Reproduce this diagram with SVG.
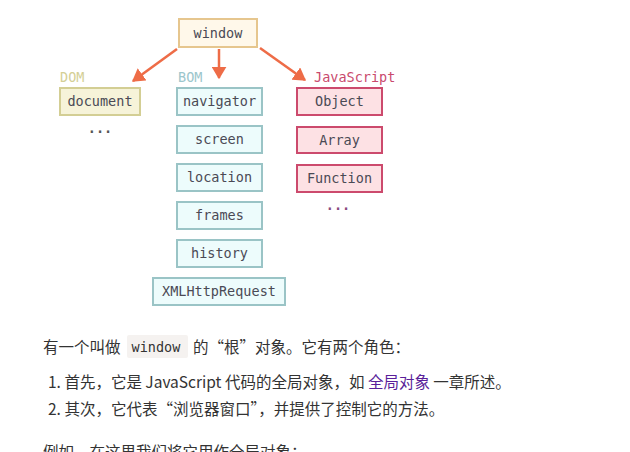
<svg xmlns="http://www.w3.org/2000/svg" width="630" height="452" viewBox="0 0 630 452">
<style>
.m{font-family:"DejaVu Sans Mono","Liberation Mono",monospace;font-size:13.5px;fill:#4a4a55;text-anchor:middle}
.lbl{font-family:"DejaVu Sans Mono","Liberation Mono",monospace;font-size:13.5px}
.win{fill:#fff8ea;stroke:#e6c68e;stroke-width:2}
.dom{fill:#f6f3d9;stroke:#d3ce94;stroke-width:2}
.bom{fill:#edfcfc;stroke:#9ac4c6;stroke-width:2}
.js{fill:#fde1e4;stroke:#cc4a6d;stroke-width:2}
.c{stroke:#ee6c47;stroke-width:2.5;fill:none;marker-end:url(#ah)}
.t{font-family:"Noto Sans CJK SC","Noto Sans",sans-serif;font-size:15.5px;fill:#333}
.dots{font-family:"DejaVu Sans Mono","Liberation Mono",monospace;font-size:13.5px;font-weight:bold;text-anchor:middle}
</style>
<defs>
<marker id="ah" markerWidth="6" markerHeight="6" refX="4.5" refY="3" orient="auto" markerUnits="strokeWidth">
<path d="M0,0 L5,3 L0,6 Z" fill="#ee6c47"/>
</marker>
</defs>
<rect width="630" height="452" fill="#fff"/>
<g id="connectors">
<line class="c" x1="177" y1="49" x2="133" y2="81"/>
<line class="c" x1="219" y1="49" x2="219" y2="78"/>
<line class="c" x1="260" y1="48" x2="305" y2="80"/>
</g>
<g id="window"><rect class="win" x="179" y="19" width="78" height="28"/><text class="m" x="218" y="38">window</text></g>
<g id="dom-label"><text class="lbl" x="60" y="82" fill="#d4cf96">DOM</text></g>
<g id="bom-label"><text class="lbl" x="178" y="82" fill="#9cc6cc">BOM</text></g>
<g id="js-label"><text class="lbl" x="314" y="82" fill="#c94a6d">JavaScript</text></g>
<g id="document"><rect class="dom" x="60" y="88" width="80" height="27"/><text class="m" x="100" y="106">document</text></g>
<g id="dom-more"><text class="dots" x="100" y="133" fill="#555">...</text></g>
<g id="navigator"><rect class="bom" x="177" y="88" width="85" height="27"/><text class="m" x="219.5" y="106">navigator</text></g>
<g id="screen"><rect class="bom" x="177" y="126" width="85" height="27"/><text class="m" x="219.5" y="144">screen</text></g>
<g id="location"><rect class="bom" x="177" y="164" width="85" height="27"/><text class="m" x="219.5" y="182">location</text></g>
<g id="frames"><rect class="bom" x="177" y="202" width="85" height="27"/><text class="m" x="219.5" y="220">frames</text></g>
<g id="history"><rect class="bom" x="177" y="240" width="85" height="27"/><text class="m" x="219.5" y="258">history</text></g>
<g id="xhr"><rect class="bom" x="153" y="278" width="132" height="27"/><text class="m" x="219" y="296">XMLHttpRequest</text></g>
<g id="object"><rect class="js" x="297" y="88" width="85" height="27"/><text class="m" x="339.5" y="106">Object</text></g>
<g id="array"><rect class="js" x="297" y="127" width="85" height="26"/><text class="m" x="339.5" y="145">Array</text></g>
<g id="function"><rect class="js" x="297" y="165" width="85" height="27"/><text class="m" x="339.5" y="183">Function</text></g>
<g id="js-more"><text class="dots" x="338" y="210" fill="#8a4a7e">...</text></g>
<g id="prose">
<rect x="127" y="335" width="61" height="23" rx="2" fill="#f5f2f0"/>
<text class="t" x="43" y="353">有一个叫做</text>
<text x="131.5" y="352" style="font-family:'DejaVu Sans Mono','Liberation Mono',monospace;font-size:13.5px;fill:#333">window</text>
<text class="t" x="193" y="353">的“根”对象。它有两个角色：</text>
<text class="t" x="48" y="388">1. 首先，它是 JavaScript 代码的全局对象，如 <tspan fill="#5a1f9a">全局对象</tspan> 一章所述。</text>
<text class="t" x="48" y="415">2. 其次，它代表“浏览器窗口”，并提供了控制它的方法。</text>
<text class="t" x="43" y="458">例如，在这里我们将它用作全局对象：</text>
</g>
</svg>
